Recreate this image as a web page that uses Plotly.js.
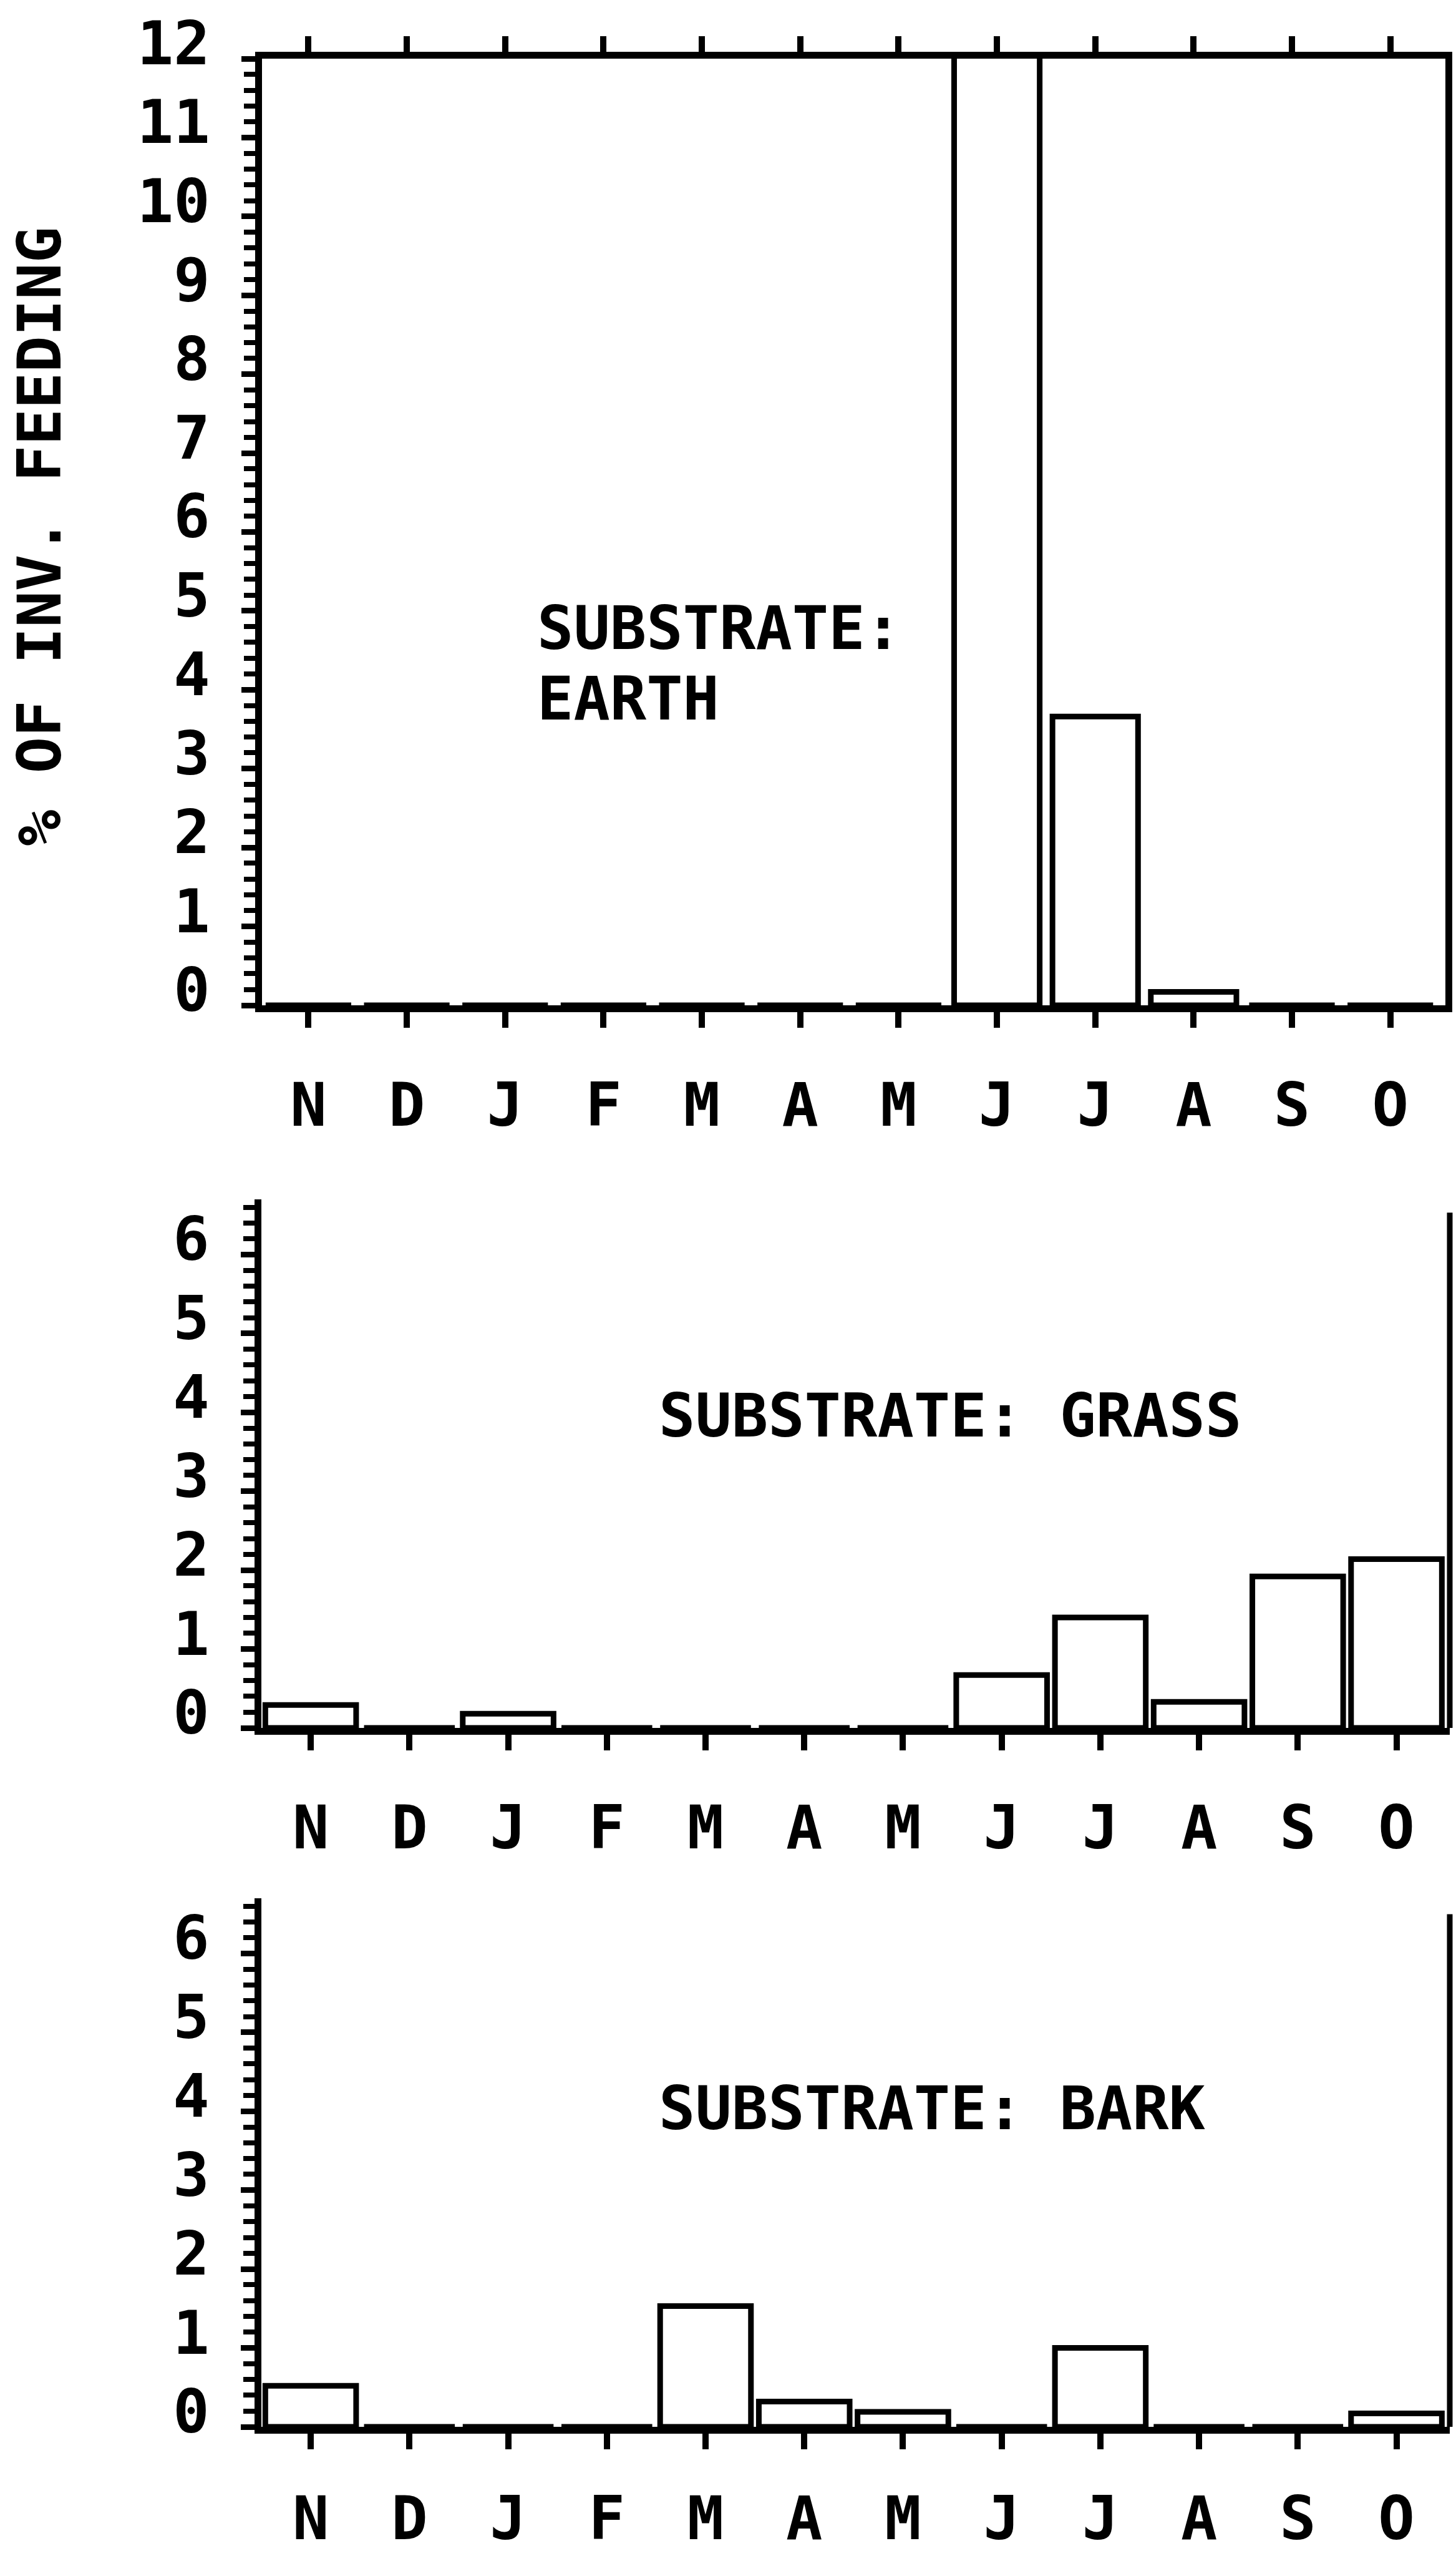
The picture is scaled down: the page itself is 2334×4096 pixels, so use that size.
<!DOCTYPE html>
<html>
<head>
<meta charset="utf-8">
<script src="https://cdn.plot.ly/plotly-3.0.1.min.js"></script>
<style>
  html, body { margin: 0; padding: 0; background: #fff; }
  #chart { width: 2334px; height: 4096px; }
</style>
</head>
<body>
<div id="chart"></div>
<script>
// Month initials, November through October
const months = ['N', 'D', 'J', 'F', 'M', 'A', 'M', 'J', 'J', 'A', 'S', 'O'];

// % of invertebrate feeding on each substrate, by month
// (the June earth value runs past the 12% axis and is clipped at the frame)
const earth = [0, 0, 0, 0, 0, 0, 0, 13, 3.66, 0.17, 0, 0];
const grass = [0.29, 0, 0.18, 0, 0, 0, 0, 0.67, 1.4, 0.33, 1.92, 2.14];
const bark  = [0.52, 0, 0, 0, 1.53, 0.32, 0.19, 0, 1.0, 0, 0, 0.17];

// Y tick labels
const earthTicks = [0, 1, 2, 3, 4, 5, 6, 7, 8, 9, 10, 11, 12];
const smallTicks = [0, 1, 2, 3, 4, 5, 6];

const W = 2334, H = 4096;
const FONT = { family: 'DejaVu Sans Mono, monospace', size: 97, color: '#000', weight: 700 };
const idx = months.map((m, i) => i);

function xAxis(leftPx, rightPx, range, anchor, mirror, standoff) {
  return {
    domain: [leftPx / W, rightPx / W],
    range: range, anchor: anchor,
    tickmode: 'array', tickvals: idx, ticktext: months,
    ticks: 'outside', ticklen: 25, tickwidth: 10, tickcolor: '#000',
    showline: true, linewidth: 11, linecolor: '#000', mirror: mirror,
    showgrid: false, zeroline: false,
    tickfont: FONT, ticklabelstandoff: standoff, tickangle: 0,
    fixedrange: true
  };
}

function yAxis(topPx, bottomPx, range, tickvals, anchor, mirror) {
  return {
    domain: [1 - bottomPx / H, 1 - topPx / H],
    range: range, anchor: anchor,
    tickmode: 'array', tickvals: tickvals, ticktext: tickvals.map(String),
    ticks: 'outside', ticklen: 22, tickwidth: 9, tickcolor: '#000',
    minor: { dtick: 0.2, tick0: 0, ticks: 'outside', ticklen: 18, tickwidth: 8, tickcolor: '#000', showgrid: false },
    showline: true, linewidth: 11, linecolor: '#000', mirror: mirror,
    showgrid: false, zeroline: false,
    // labels sit slightly above their ticks
    tickfont: FONT, ticklabelstandoff: 31, ticklabelshift: -25,
    fixedrange: true
  };
}

function barTrace(values, xa, ya, w) {
  return {
    type: 'bar', x: idx, y: values, xaxis: xa, yaxis: ya, width: w,
    marker: { color: '#fff', line: { color: '#000', width: 9 } },
    hoverinfo: 'skip', showlegend: false
  };
}

const traces = [
  barTrace(earth, 'x', 'y', 0.87),
  barTrace(grass, 'x2', 'y2', 0.92),
  barTrace(bark, 'x3', 'y3', 0.92)
];

function note(text, xPx, yPx, opts) {
  return Object.assign({
    text: text, xref: 'paper', yref: 'paper',
    x: xPx / W, y: 1 - yPx / H,
    xanchor: 'left', yanchor: 'middle',
    showarrow: false, font: FONT
  }, opts || {});
}

const layout = {
  width: W, height: H,
  margin: { l: 0, r: 0, t: 0, b: 0 },
  paper_bgcolor: '#fff', plot_bgcolor: 'rgba(0,0,0,0)',
  showlegend: false, font: FONT,
  xaxis:  xAxis(420, 2317, [-0.472, 11.56], 'y', 'allticks', 41),
  yaxis:  yAxis(94, 1611, [0, 12], earthTicks, 'x', true),
  xaxis2: xAxis(419, 2324, [-0.5, 11.54], 'y2', false, 41),
  yaxis2: yAxis(1922, 2769, [0, 6.7], smallTicks, 'x2', false),
  xaxis3: xAxis(419, 2324, [-0.5, 11.54], 'y3', false, 28),
  yaxis3: yAxis(3042, 3889, [0, 6.7], smallTicks, 'x3', false),
  shapes: [
    { type: 'line', xref: 'x2 domain', yref: 'y2 domain', x0: 1, x1: 1, y0: 0, y1: 0.975,
      line: { color: '#000', width: 9 } },
    { type: 'line', xref: 'x3 domain', yref: 'y3 domain', x0: 1, x1: 1, y0: 0, y1: 0.97,
      line: { color: '#000', width: 9 } }
  ],
  annotations: [
    note('SUBSTRATE:', 859, 1006),
    note('EARTH', 859, 1119),
    note('SUBSTRATE: GRASS', 1054, 2268),
    note('SUBSTRATE: BARK', 1054, 3378),
    note('% OF INV. FEEDING', 63, 860, { xanchor: 'center', textangle: -90 })
  ]
};

Plotly.newPlot('chart', traces, layout, { staticPlot: true, displayModeBar: false });
</script>
</body>
</html>
